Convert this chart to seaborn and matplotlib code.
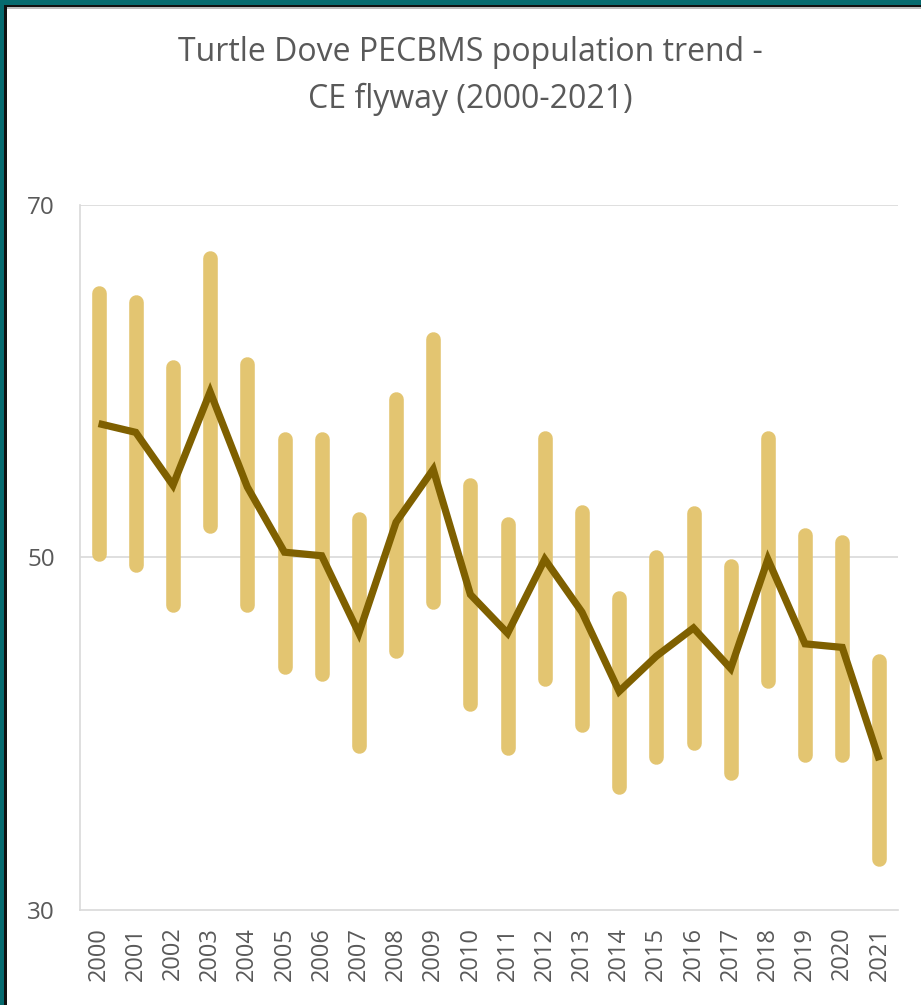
import matplotlib
matplotlib.use("Agg")
import matplotlib.pyplot as plt
import seaborn as sns
import pandas as pd
import numpy as np
from matplotlib.patches import Rectangle

years = [str(y) for y in range(2000, 2022)]
trend = [57.6, 57.1, 54.1, 59.4, 54.0, 50.3, 50.1, 45.7, 52.0, 55.0, 47.9,
         45.7, 49.9, 46.9, 42.4, 44.4, 46.0, 43.7, 49.9, 45.1, 44.9, 38.5]
upper = [65.0, 64.5, 60.8, 67.0, 61.0, 56.7, 56.7, 52.2, 59.0, 62.4, 54.1,
         51.9, 56.8, 52.6, 47.7, 50.0, 52.5, 49.5, 56.8, 51.3, 50.9, 44.1]
lower = [50.2, 49.6, 47.3, 51.8, 47.3, 43.8, 43.4, 39.3, 44.7, 47.5, 41.7,
         39.2, 43.1, 40.5, 37.0, 38.7, 39.5, 37.8, 43.0, 38.8, 38.8, 32.9]
yticks = [30, 50, 70]
title = "Turtle Dove PECBMS population trend -\nCE flyway (2000-2021)"

W, H = 921, 1005
sns.set_theme(style="white")
plt.rcParams['font.family'] = ['Open Sans', 'DejaVu Sans']

fig = plt.figure(figsize=(W / 100, H / 100), dpi=100)
fig.patch.set_facecolor("white")
ax = fig.add_axes([80 / W, (H - 910) / H, (898 - 80) / W, (910 - 205) / H])

df = pd.DataFrame({"year": years, "pos": np.arange(len(years)),
                   "trend": trend, "upper": upper, "lower": lower})

bar_col = "#E3C571"
line_col = "#7F6000"
grid_col = "#D9D9D9"
txt_col = "#595959"

for yv in yticks[1:]:
    ax.axhline(yv, color=grid_col, lw=1.2, zorder=0)

vl = ax.vlines(df["pos"], df["lower"], df["upper"], colors=bar_col, lw=10.5, zorder=2)
vl.set_capstyle("round")

sns.lineplot(data=df, x="pos", y="trend", ax=ax, color=line_col, lw=5.2,
             zorder=3, sort=False)
for l in ax.get_lines():
    l.set_solid_joinstyle("miter")
    l.set_solid_capstyle("butt")

ax.set_xlim(-0.5, len(years) - 0.5)
ax.set_ylim(30, 70)
ax.set_yticks(yticks)
ax.set_yticklabels([str(v) for v in yticks], fontsize=17.5, color=txt_col)
ax.set_xticks(df["pos"])
ax.set_xticklabels(years, rotation=90, fontsize=17, color=txt_col)
ax.tick_params(axis="y", length=0, pad=18)
ax.tick_params(axis="x", length=0, pad=12)
ax.set_xlabel("")
ax.set_ylabel("")
for s in ["top", "right"]:
    ax.spines[s].set_visible(False)
for s in ["left", "bottom"]:
    ax.spines[s].set_color(grid_col)
    ax.spines[s].set_linewidth(1.2)
ax.set_facecolor("white")

fig.text(470 / W, 1 - 76 / H, title, ha="center", va="center",
         fontsize=23, color=txt_col, linespacing=1.55)

# frame
teal = "#066B6F"
fig.add_artist(Rectangle((0, 1 - 5 / H), 1, 5 / H, transform=fig.transFigure,
                         color=teal, lw=0))
fig.add_artist(Rectangle((0, 0), 4 / W, 1, transform=fig.transFigure,
                         color=teal, lw=0))
fig.add_artist(Rectangle((4 / W, 1 - 7 / H), 1, 2 / H, transform=fig.transFigure,
                         color="#111111", lw=0))
fig.add_artist(Rectangle((4 / W, 0), 3 / W, 1 - 5 / H, transform=fig.transFigure,
                         color="#111111", lw=0))
fig.add_artist(Rectangle((7 / W, 1 - 9 / H), 1, 2 / H, transform=fig.transFigure,
                         color="#BBBBBB", lw=0))

fig.savefig("out.png", dpi=100, facecolor="white")
